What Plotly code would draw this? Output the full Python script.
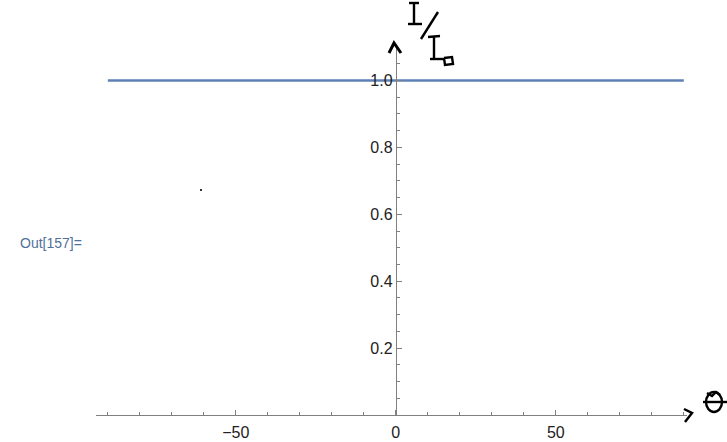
import plotly.graph_objects as go

# data
theta = [-90, 90]
intensity = [1.0, 1.0]
x_ticks = [-50, 0, 50]
y_ticks = [0.2, 0.4, 0.6, 0.8, 1.0]
y_labels = ["0.2", "0.4", "0.6", "0.8", "1.0"]

W, H = 727, 442
ML, MR, MT, MB = 96, 40, 47, 27
PW = W - ML - MR
PH = H - MT - MB


def P(px, py):
    return (px - ML) / PW, (H - MB - py) / PH


def path(points):
    s = ""
    for i, (px, py) in enumerate(points):
        x, y = P(px, py)
        s += ("M" if i == 0 else "L") + f"{x:.5f},{y:.5f} "
    return s.strip()


fig = go.Figure()
fig.add_trace(go.Scatter(x=theta, y=intensity, mode="lines",
                         line=dict(color="#5E81B5", width=2.5),
                         showlegend=False, hoverinfo="skip"))

xr = [-93.7, 91.0]
ypos = (0 - xr[0]) / (xr[1] - xr[0])

axis_col = "#808080"
font_tick = dict(family="Liberation Sans, Arial, sans-serif", size=16, color="#222")

fig.update_layout(
    width=W, height=H,
    margin=dict(l=ML, r=MR, t=MT, b=MB, pad=0, autoexpand=False),
    paper_bgcolor="white", plot_bgcolor="white",
    xaxis=dict(range=xr, showgrid=False, zeroline=False, showline=True, automargin=False,
               linecolor=axis_col, linewidth=1, ticks="inside", ticklen=5,
               tickcolor=axis_col, tickvals=x_ticks, tickfont=font_tick, ticklabelstandoff=3,
               minor=dict(dtick=10, tick0=0, ticks="inside", ticklen=3, tickcolor=axis_col)),
    yaxis=dict(range=[0, 1.1], showgrid=False, zeroline=False, showline=True, automargin=False,
               linecolor=axis_col, linewidth=1, anchor="free", position=ypos,
               ticks="inside", ticklen=5, tickcolor=axis_col,
               tickvals=y_ticks, ticktext=y_labels, tickfont=font_tick,
               minor=dict(dtick=0.05, tick0=0, ticks="inside", ticklen=3, tickcolor=axis_col)),
)

# Out label
ox, oy = P(18, 243)
fig.add_annotation(x=ox, y=oy, xref="paper", yref="paper", text="Out[157]=",
                   showarrow=False, xanchor="left", yanchor="middle",
                   font=dict(family="Liberation Sans, Arial, sans-serif", size=14, color="#52719A"))

# hand drawn annotations
ink = dict(color="black", width=2.4)
strokes = [
    [(409, 3), (419, 3)], [(414, 3), (414, 23)], [(408, 24), (422, 24)],
    [(438, 12), (421, 39)],
    [(428, 37), (440, 36)], [(434, 37), (434, 58)], [(430, 59), (445, 59)],
    [(444, 58), (452, 57), (453, 64), (445, 65), (444, 58)],
]
for s in strokes:
    fig.add_shape(type="path", path=path(s), xref="paper", yref="paper", line=ink)
fig.add_shape(type="path", path=path([(389, 53), (394, 43), (401, 53)]),
              xref="paper", yref="paper", line=dict(color="black", width=3))
# theta arrow and symbol
fig.add_shape(type="path", path=path([(684, 409), (692, 413), (685, 422)]),
              xref="paper", yref="paper", line=dict(color="black", width=2.5))
x0, y0 = P(706, 392)
x1, y1 = P(722, 412)
fig.add_shape(type="circle", x0=x0, y0=y0, x1=x1, y1=y1, xref="paper", yref="paper",
              line=dict(color="black", width=2.4))
fig.add_shape(type="path", path=path([(703, 402), (727, 402)]), xref="paper", yref="paper", line=ink)
fig.add_shape(type="path", path=path([(707, 393), (712, 396), (716, 392), (720, 395)]),
              xref="paper", yref="paper", line=ink)
# stray dot
dx0, dy0 = P(200, 189)
dx1, dy1 = P(202, 191)
fig.add_shape(type="rect", x0=dx0, y0=dy0, x1=dx1, y1=dy1, xref="paper", yref="paper",
              line=dict(width=0), fillcolor="#333")

fig.write_html("out.html", config={"displayModeBar": False},
               post_script="document.body.style.margin='0';document.body.style.overflow='hidden';")
